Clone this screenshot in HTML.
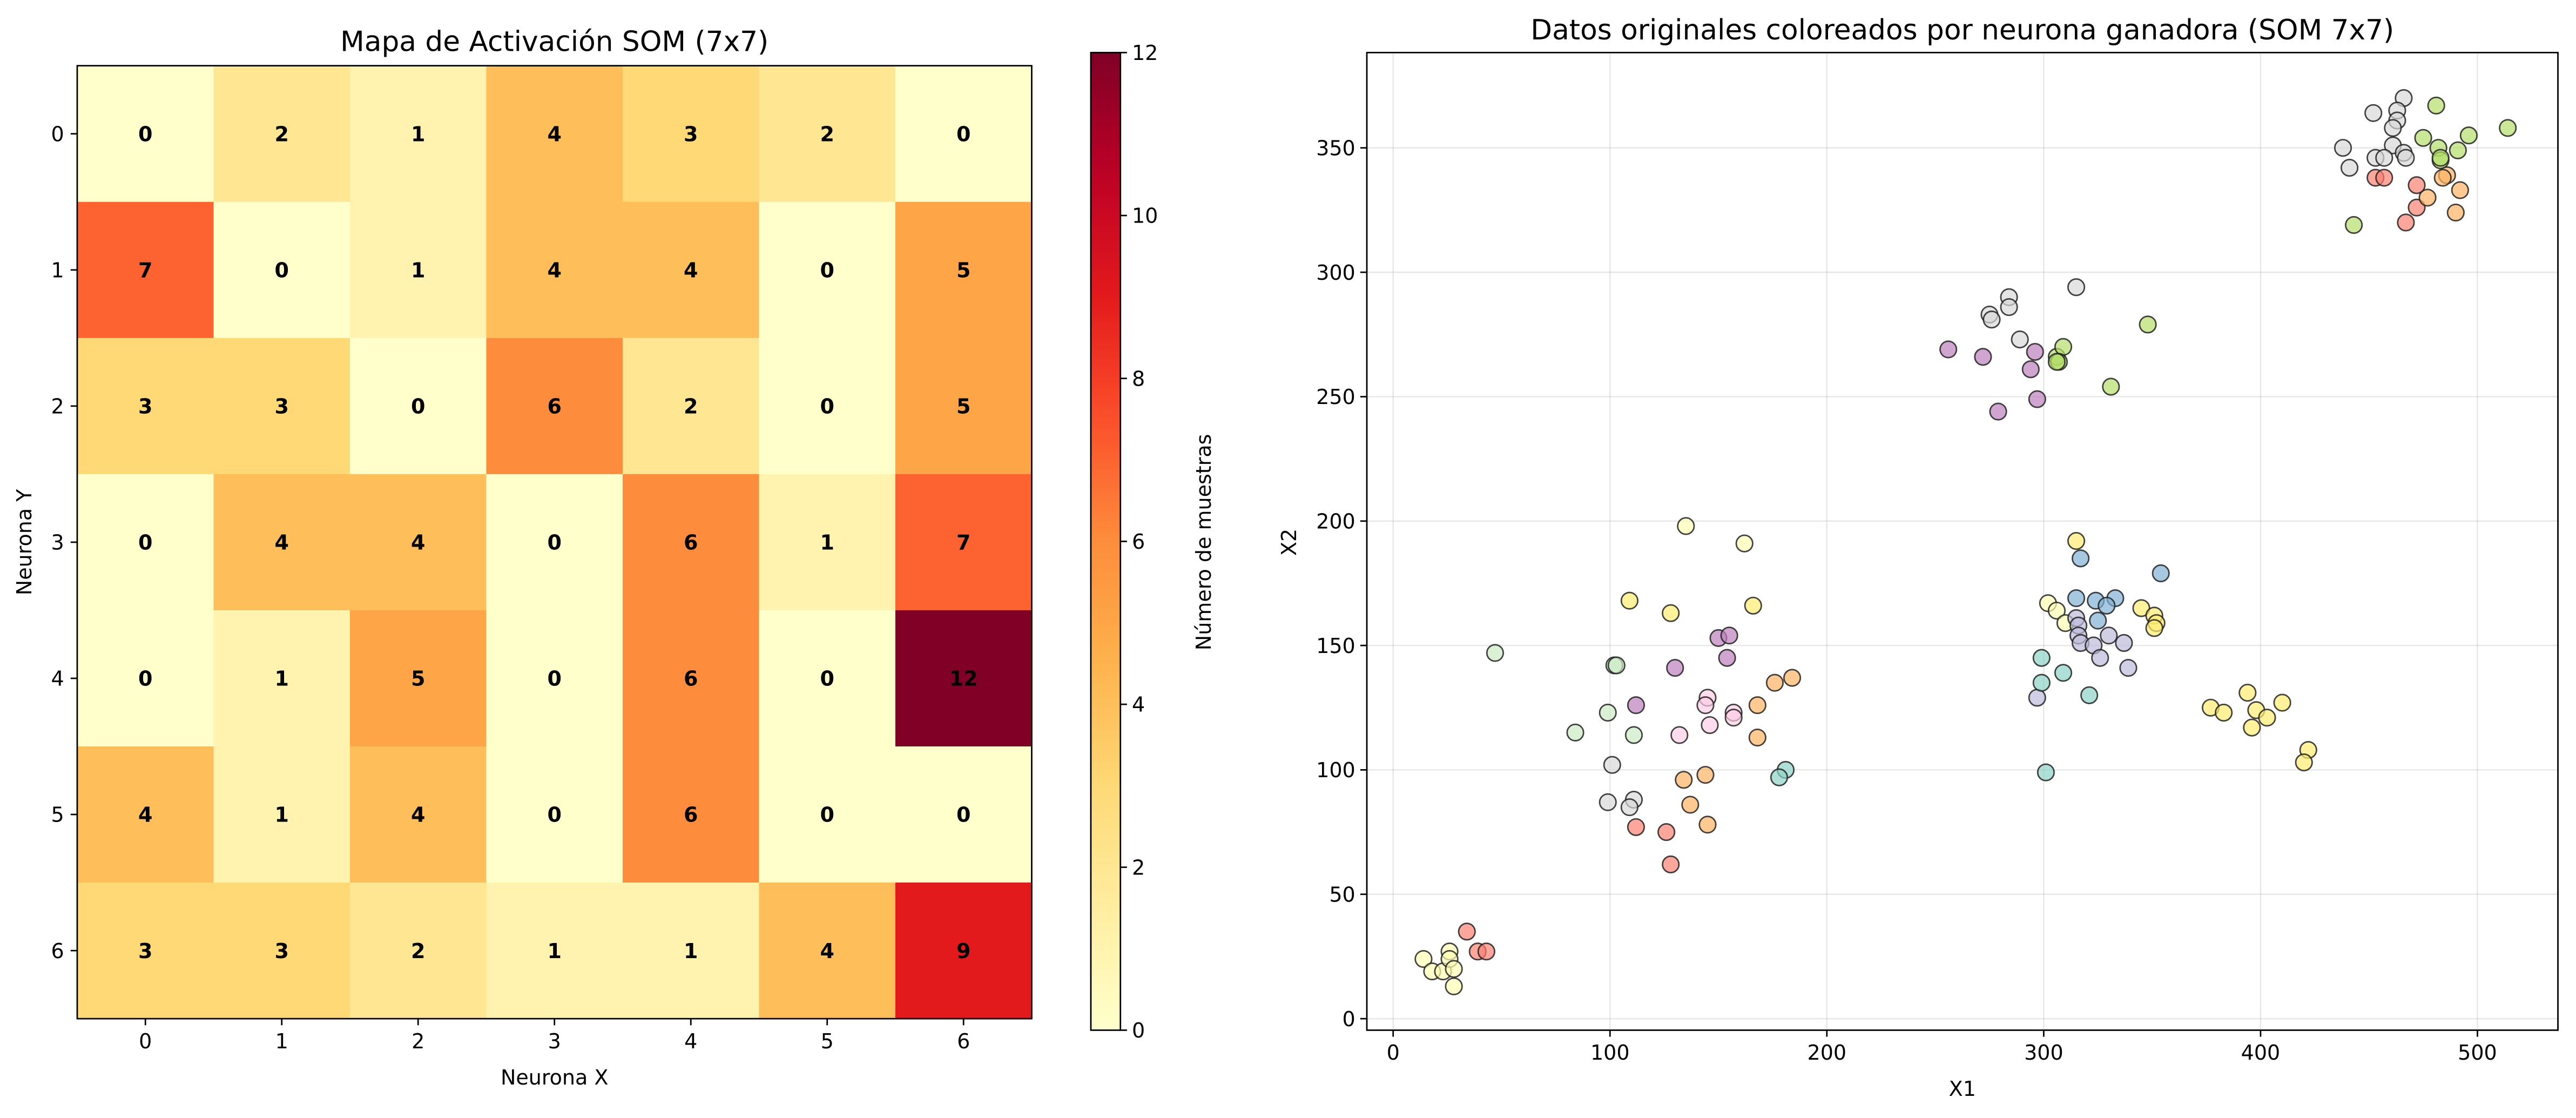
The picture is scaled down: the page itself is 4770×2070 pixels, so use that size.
<!DOCTYPE html>
<html><head><meta charset="utf-8"><style>
html,body{margin:0;padding:0;background:#fff}
svg{display:block}
text{font-family:"DejaVu Sans","Liberation Sans",sans-serif;fill:#000}
</style></head><body>
<svg id="fig" xmlns="http://www.w3.org/2000/svg" width="4770" height="2070" viewBox="0 0 1568 680.45" preserveAspectRatio="none"></svg>
<script>
// ---------- heatmap data ----------
const rowLabels = ["0","1","2","3","4","5","6"];
const colLabels = ["0","1","2","3","4","5","6"];
const counts = [
 [0,2,1,4,3,2,0],
 [7,0,1,4,4,0,5],
 [3,3,0,6,2,0,5],
 [0,4,4,0,6,1,7],
 [0,1,5,0,6,0,12],
 [4,1,4,0,6,0,0],
 [3,3,2,1,1,4,9]
];
const cbTicks = [0,2,4,6,8,10,12];
// ---------- scatter data ----------
const xs = [14,18,23,26,26,28,28,34,39,43,47,
135,162,109,128,166,150,155,154,130,112,102,103,84,99,111,145,144,157,157,132,146,176,184,168,168,134,144,137,145,181,178,101,99,111,109,112,126,128,
256,272,296,294,297,279,275,276,284,284,289,315,306,309,307,306,331,348,
315,317,354,315,324,333,329,325,302,306,310,345,351,352,351,315,316,316,317,323,330,337,326,339,297,299,299,309,321,301,
377,383,394,398,396,403,410,422,420,
466,463,452,463,461,461,466,467,438,441,453,457,481,475,482,491,496,514,483,483,443,453,457,472,472,467,486,484,477,492,490];
const ys = [24,19,19,27,24,20,13,35,27,27,147,
198,191,168,163,166,153,154,145,141,126,142,142,115,123,114,129,126,123,121,114,118,135,137,126,113,96,98,86,78,100,97,102,87,88,85,77,75,62,
269,266,268,261,249,244,283,281,290,286,273,294,266,270,264,264,254,279,
192,185,179,169,168,169,166,160,167,164,159,165,162,159,157,161,158,154,151,150,154,151,145,141,129,145,135,139,130,99,
125,123,131,124,117,121,127,108,103,
370,365,364,361,358,351,348,346,350,342,346,346,367,354,350,349,355,358,345,346,319,338,338,335,326,320,339,338,330,333,324];
const groups = ["b","b","b","b","b","b","b","r","r","r","lg",
"b","b","y","y","y","p","p","p","p","p","lg","lg","lg","lg","lg","k","k","k","k","k","k","o","o","o","o","o","o","o","o","t","t","g","g","g","g","r","r","r",
"p","p","p","p","p","p","g","g","g","g","g","g","G","G","G","G","G","G",
"y","bl","bl","bl","bl","bl","bl","bl","b","b","b","y","y","y","y","l","l","l","l","l","l","l","l","l","l","t","t","t","t","t",
"y","y","y","y","y","y","y","y","y",
"g","g","g","g","g","g","g","g","g","g","g","g","G","G","G","G","G","G","G","G","G","r","r","r","r","r","o","o","o","o","o"];
const palette = {t:"#8dd3c7",b:"#ffffb3",l:"#bebada",r:"#fb8072",bl:"#80b1d3",o:"#fdb462",G:"#b3de69",k:"#fccde5",g:"#d9d9d9",p:"#bc80bd",lg:"#ccebc5",y:"#ffed6f"};
const xTicks = [0,100,200,300,400,500];
const yTicks = [0,50,100,150,200,250,300,350];

const NS="http://www.w3.org/2000/svg";
const svg=document.getElementById('fig');
function el(tag,attrs,parent,txt){const e=document.createElementNS(NS,tag);for(const k in attrs)e.setAttribute(k,attrs[k]);if(txt!==undefined)e.textContent=txt;(parent||svg).appendChild(e);return e;}

// YlOrRd
const stops=["#ffffcc","#ffeda0","#fed976","#feb24c","#fd8d3c","#fc4e2a","#e31a1c","#bd0026","#800026"];
function hex(h){return [1,3,5].map(i=>parseInt(h.substr(i,2),16));}
function cmap(t){t=Math.max(0,Math.min(1,t));const p=t*(stops.length-1);const i=Math.min(stops.length-2,Math.floor(p));const f=p-i;const a=hex(stops[i]),b=hex(stops[i+1]);return `rgb(${a.map((v,k)=>Math.round(v+(b[k]-v)*f)).join(',')})`;}

// ---------- heatmap ----------
const H={l:47,r:628,t:40,b:620};
const cw=(H.r-H.l)/colLabels.length, ch=(H.b-H.t)/rowLabels.length;
const hx=i=>H.l+cw*(i+0.5), hy=j=>H.t+ch*(j+0.5);
const hm=el('g',{},svg);


counts.forEach((row,j)=>row.forEach((v,i)=>{
  const r=el('rect',{x:hx(i)-cw/2,y:hy(j)-ch/2,width:cw+0.3,height:ch+0.3,fill:cmap(v/12)},hm);
  
  
  const t=el('text',{x:hx(i),y:hy(j)+4.5,'text-anchor':'middle','font-size':12.5,'font-weight':'bold'},hm,String(v));
  
  
}));
el('rect',{x:H.l,y:H.t,width:H.r-H.l,height:H.b-H.t,fill:'none',stroke:'#000','stroke-width':0.9});
colLabels.forEach((c,i)=>{el('line',{x1:hx(i),x2:hx(i),y1:H.b,y2:H.b+4,stroke:'#000','stroke-width':0.9});
  const t=el('text',{x:hx(i),y:H.b+18,'text-anchor':'middle','font-size':12.5},svg,c);
  });
rowLabels.forEach((c,j)=>{el('line',{x1:H.l-4,x2:H.l,y1:hy(j),y2:hy(j),stroke:'#000','stroke-width':0.9});
  const t=el('text',{x:H.l-8,y:hy(j)+4.5,'text-anchor':'end','font-size':12.5},svg,c);
  });
el('text',{x:(H.l+H.r)/2,y:31,'text-anchor':'middle','font-size':17,},svg,'Mapa de Activación SOM (7x7)');
el('text',{x:(H.l+H.r)/2,y:660,'text-anchor':'middle','font-size':12.5,},svg,'Neurona X');
el('text',{x:19,y:330,'text-anchor':'middle','font-size':12.5,transform:'rotate(-90 19 330)',},svg,'Neurona Y');

// colorbar
const C={l:664,r:682,t:32,b:627};
const defs=el('defs',{});
const lg=el('linearGradient',{id:'cb',x1:0,y1:1,x2:0,y2:0},defs);
for(let k=0;k<=20;k++)el('stop',{offset:k/20,'stop-color':cmap(k/20)},lg);
el('rect',{x:C.l,y:C.t,width:C.r-C.l,height:C.b-C.t,fill:'url(#cb)',stroke:'#000','stroke-width':0.9,});
const cy=v=>C.b-(C.b-C.t)*v/12;
cbTicks.forEach(v=>{el('line',{x1:C.r,x2:C.r+4,y1:cy(v),y2:cy(v),stroke:'#000','stroke-width':0.9});
  const t=el('text',{x:C.r+7,y:cy(v)+4.5,'font-size':12.5},svg,String(v));
  });
el('text',{x:737,y:330,'text-anchor':'middle','font-size':12.5,transform:'rotate(-90 737 330)',},svg,'Número de muestras');

// ---------- scatter ----------
const S={l:832,r:1557,t:32,b:627};
const sx=v=>848+v*1.32, sy=v=>620-v*1.5143;
xTicks.forEach(v=>{el('line',{x1:sx(v),x2:sx(v),y1:S.t,y2:S.b,stroke:'#b0b0b0','stroke-opacity':0.3,'stroke-width':0.8});
  el('line',{x1:sx(v),x2:sx(v),y1:S.b,y2:S.b+4,stroke:'#000','stroke-width':0.9});
  const t=el('text',{x:sx(v),y:S.b+18,'text-anchor':'middle','font-size':12.5},svg,String(v));
  });
yTicks.forEach(v=>{el('line',{x1:S.l,x2:S.r,y1:sy(v),y2:sy(v),stroke:'#b0b0b0','stroke-opacity':0.3,'stroke-width':0.8});
  el('line',{x1:S.l-4,x2:S.l,y1:sy(v),y2:sy(v),stroke:'#000','stroke-width':0.9});
  const t=el('text',{x:S.l-7,y:sy(v)+4.5,'text-anchor':'end','font-size':12.5},svg,String(v));
  });
const pts=el('g',{},svg);


xs.forEach((x,i)=>{const c=el('circle',{cx:sx(x),cy:sy(ys[i]),r:5,fill:palette[groups[i]],'fill-opacity':0.7,stroke:'#222','stroke-opacity':0.85,'stroke-width':0.9},pts);
  });
el('rect',{x:S.l,y:S.t,width:S.r-S.l,height:S.b-S.t,fill:'none',stroke:'#000','stroke-width':0.9});
el('text',{x:(S.l+S.r)/2,y:24,'text-anchor':'middle','font-size':17,},svg,'Datos originales coloreados por neurona ganadora (SOM 7x7)');
el('text',{x:(S.l+S.r)/2,y:667,'text-anchor':'middle','font-size':12.5,},svg,'X1');
el('text',{x:789,y:330,'text-anchor':'middle','font-size':12.5,transform:'rotate(-90 789 330)',},svg,'X2');
</script>
</body></html>
